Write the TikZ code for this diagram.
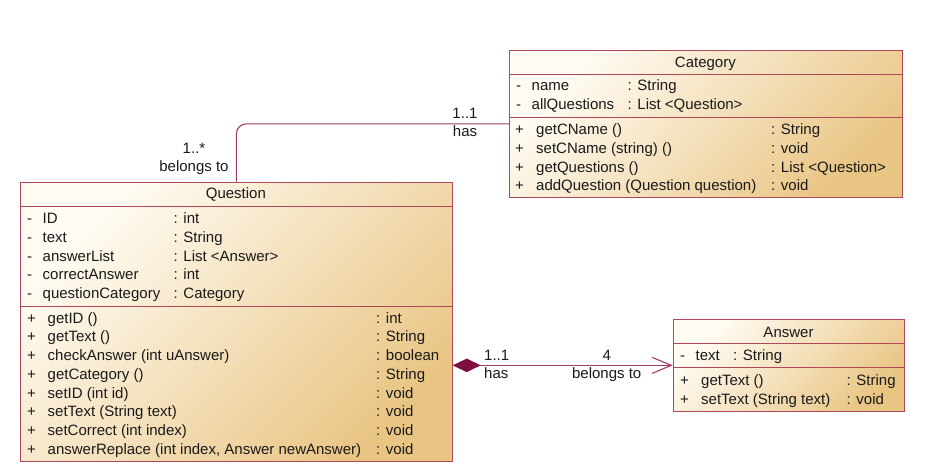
\documentclass[tikz,border=0pt]{standalone}
\usepackage{fontspec}
\setmainfont{Liberation Sans}
\usetikzlibrary{arrows.meta,calc}

\definecolor{umlborder}{HTML}{B0485A}
\definecolor{umlline}{HTML}{A33A62}
\definecolor{umldiamond}{HTML}{7E0E42}
\definecolor{umllight}{HTML}{FFFCF4}
\definecolor{umldark}{HTML}{E9C584}
\definecolor{umltext}{HTML}{1A1A1A}

\tikzset{
  classbox/.style={draw=umlborder, line width=1pt, top color=umllight,
    bottom color=umldark, shading angle=45, anchor=north west},
  compline/.style={draw=umlborder, line width=1pt},
  member/.style={anchor=base west},
  title/.style={anchor=base},
  rolelabel/.style={anchor=base},
  assoc/.style={draw=umlline, line width=1.1pt},
}

\begin{document}
\begin{tikzpicture}[x=1pt, y=-1pt,
  every node/.style={font=\fontsize{15}{18}\selectfont, text=umltext, inner sep=0pt}]
\useasboundingbox[fill=white] (0,0) rectangle (946,474);

% ---------- class Category ----------
\node[classbox, minimum width=392.7pt, minimum height=146.7pt] (cat) at (509,50) {};
\draw[compline] ($(cat.north west)+(0,24)$) -- ($(cat.north east)+(0,24)$);
\draw[compline] ($(cat.north west)+(0,67.3)$) -- ($(cat.north east)+(0,67.3)$);
\node[title] (cat-title) at (705.4,67) {Category};
\foreach \s/\n/\t [count=\i] in {-/name/: String, -/allQuestions/: List <Question>} {
  \node[member] (cat-a\i-s) at (516, {90.4+18.7*(\i-1)}) {\s};
  \node[member] (cat-a\i-n) at (531.5, {90.4+18.7*(\i-1)}) {\n};
  \node[member] (cat-a\i-t) at (627.5, {90.4+18.7*(\i-1)}) {\t};
}
\foreach \s/\n/\t [count=\i] in {+/getCName ()/: String, +/setCName (string) ()/: void,
    +/getQuestions ()/: List <Question>, +/addQuestion (Question question)/: void} {
  \node[member] (cat-m\i-s) at (515, {134.7+18.7*(\i-1)}) {\s};
  \node[member] (cat-m\i-n) at (536, {134.7+18.7*(\i-1)}) {\n};
  \node[member] (cat-m\i-t) at (771, {134.7+18.7*(\i-1)}) {\t};
}

% ---------- class Question ----------
\node[classbox, minimum width=431.7pt, minimum height=279.3pt] (q) at (20,181.7) {};
\draw[compline] ($(q.north west)+(0,25)$) -- ($(q.north east)+(0,25)$);
\draw[compline] ($(q.north west)+(0,124.3)$) -- ($(q.north east)+(0,124.3)$);
\node[title] (q-title) at (235.9,198.7) {Question};
\foreach \s/\n/\t [count=\i] in {-/ID/: int, -/text/: String, -/answerList/: List <Answer>,
    -/correctAnswer/: int, -/questionCategory/: Category} {
  \node[member] (q-a\i-s) at (27, {223.5+18.75*(\i-1)}) {\s};
  \node[member] (q-a\i-n) at (42.5, {223.5+18.75*(\i-1)}) {\n};
  \node[member] (q-a\i-t) at (173.5, {223.5+18.75*(\i-1)}) {\t};
}
\foreach \s/\n/\t [count=\i] in {+/getID ()/: int, +/getText ()/: String,
    +/checkAnswer (int uAnswer)/: boolean, +/getCategory ()/: String,
    +/setID (int id)/: void, +/setText (String text)/: void,
    +/setCorrect (int index)/: void, +/{answerReplace (int index, Answer newAnswer)}/: void} {
  \node[member] (q-m\i-s) at (27, {323+18.75*(\i-1)}) {\s};
  \node[member] (q-m\i-n) at (47.5, {323+18.75*(\i-1)}) {\n};
  \node[member] (q-m\i-t) at (376, {323+18.75*(\i-1)}) {\t};
}

% ---------- class Answer ----------
\node[classbox, minimum width=231.6pt, minimum height=91.7pt] (a) at (672.7,319) {};
\draw[compline] ($(a.north west)+(0,24.3)$) -- ($(a.north east)+(0,24.3)$);
\draw[compline] ($(a.north west)+(0,48.3)$) -- ($(a.north east)+(0,48.3)$);
\node[title] (a-title) at (788.5,337) {Answer};
\node[member] (a-a1-s) at (680, 360.4) {-};
\node[member] (a-a1-n) at (695.5, 360.4) {text};
\node[member] (a-a1-t) at (733, 360.4) {: String};
\foreach \s/\n/\t [count=\i] in {+/getText ()/: String, +/setText (String text)/: void} {
  \node[member] (a-m\i-s) at (680, {385.4+18.7*(\i-1)}) {\s};
  \node[member] (a-m\i-n) at (701, {385.4+18.7*(\i-1)}) {\n};
  \node[member] (a-m\i-t) at (846.5, {385.4+18.7*(\i-1)}) {\t};
}

% ---------- association Question -- Category ----------
\draw[assoc, rounded corners=10pt] (q.north) |- (cat.west);
\node[rolelabel] (qc-mult) at (194,153.5) {1..*};
\node[rolelabel] (qc-role) at (194,171.5) {belongs to};
\node[rolelabel] (cq-mult) at (465,118.3) {1..1};
\node[rolelabel] (cq-role) at (465,136) {has};

% ---------- composition Question <>-- Answer ----------
\draw[assoc, {Diamond[length=28pt,width=13.5pt,fill=umldiamond,color=umldiamond]}-{Straight Barb[length=19pt,width=16pt]}]
  (q.east |- a.west) -- (a.west);
\node[member] (qa-mult) at (484,360.7) {1..1};
\node[member] (qa-role) at (484,378.3) {has};
\node[rolelabel] (aq-mult) at (606.7,360.7) {4};
\node[rolelabel] (aq-role) at (606.7,378.3) {belongs to};
\end{tikzpicture}
\end{document}
